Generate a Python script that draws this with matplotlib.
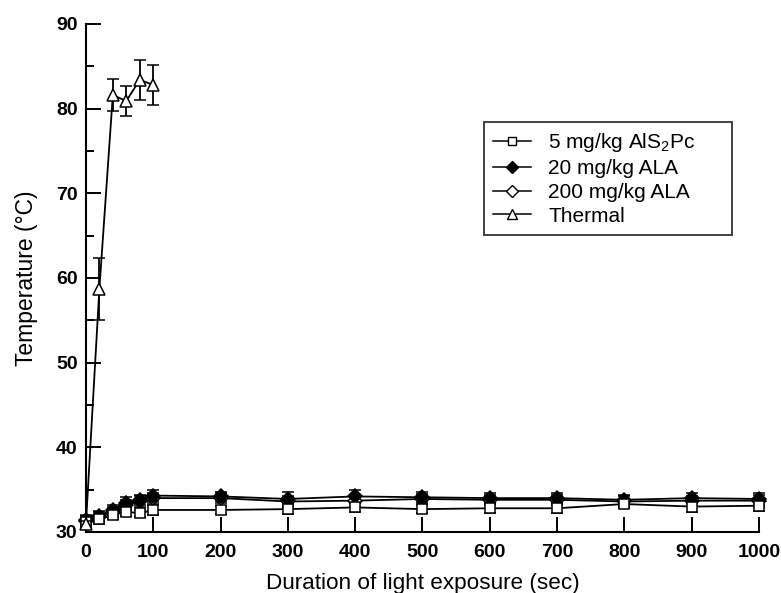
import matplotlib
matplotlib.use("Agg")
import matplotlib.pyplot as plt
from matplotlib.ticker import MultipleLocator
from matplotlib.lines import Line2D

plt.rcParams['font.family'] = ['Liberation Sans', 'DejaVu Sans']

# ---- data ----
x_light = [0, 20, 40, 60, 80, 100, 200, 300, 400, 500, 600, 700, 800, 900, 1000]
alspc = [31.2, 31.5, 32.0, 32.4, 32.2, 32.6, 32.6, 32.7, 32.9, 32.7, 32.8, 32.8, 33.3, 33.0, 33.1]
alspc_err = [0.4, 0.5, 0.5, 0.5, 0.4, 0.6, 0.5, 0.6, 0.5, 0.5, 0.5, 0.5, 0.4, 0.6, 0.6]
ala20 = [31.4, 31.9, 32.6, 33.4, 33.8, 34.3, 34.2, 33.9, 34.2, 34.1, 34.0, 34.0, 33.8, 34.0, 33.9]
ala20_err = [0.6, 0.6, 0.6, 0.7, 0.6, 0.6, 0.5, 0.8, 0.8, 0.6, 0.6, 0.6, 0.6, 0.6, 0.7]
ala200 = [31.3, 31.8, 32.4, 33.2, 33.6, 34.0, 34.0, 33.6, 33.7, 33.9, 33.8, 33.8, 33.6, 33.7, 33.7]
ala200_err = [0.6, 0.6, 0.6, 0.6, 0.6, 0.6, 0.6, 0.7, 0.7, 0.6, 0.6, 0.6, 0.6, 0.6, 0.7]
x_thermal = [0, 20, 40, 60, 80, 100]
thermal = [30.9, 58.7, 81.6, 80.9, 83.4, 82.8]
thermal_err = [0.4, 3.7, 1.9, 1.8, 2.4, 2.4]

labels = ['5 mg/kg AlS$_\\mathregular{2}$Pc', '20 mg/kg ALA', '200 mg/kg ALA', 'Thermal']
x_ticks = [0, 100, 200, 300, 400, 500, 600, 700, 800, 900, 1000]
y_ticks = [30, 40, 50, 60, 70, 80, 90]

fig = plt.figure(figsize=(7.81, 5.93), dpi=100)
ax = fig.add_axes([0.110, 0.1029, 0.8617, 0.8567])

common = dict(color='black', lw=1.3, capsize=4.5, elinewidth=1.3, capthick=1.3, clip_on=False)
ax.errorbar(x_light, ala200, yerr=ala200_err, marker='D', ms=7, mfc='white', mec='black',
            mew=1.1, zorder=3, **common)
ax.errorbar(x_light, ala20, yerr=ala20_err, marker='D', ms=7, mfc='black', mec='black',
            mew=1.1, zorder=4, **common)
ax.errorbar(x_light, alspc, yerr=alspc_err, marker='s', ms=7.5, mfc='white', mec='black',
            mew=1.1, zorder=5, **common)
ax.errorbar(x_thermal, thermal, yerr=thermal_err, marker='^', ms=9, mfc='white', mec='black',
            mew=1.1, zorder=6, **common)

ax.set_xlim(0, 1000)
ax.set_ylim(30, 90)
ax.set_xticks(x_ticks)
ax.set_yticks(y_ticks)
ax.yaxis.set_minor_locator(MultipleLocator(5))
ax.spines['top'].set_visible(False)
ax.spines['right'].set_visible(False)
for s in ('left', 'bottom'):
    ax.spines[s].set_linewidth(1.5)
ax.tick_params(axis='both', which='major', direction='in', length=11, width=1.4, labelsize=14)
ax.tick_params(axis='x', which='major', pad=8.5)
ax.tick_params(axis='y', which='major', pad=6)
ax.tick_params(axis='y', which='minor', direction='in', length=5.5, width=1.4)
for lab in ax.get_xticklabels() + ax.get_yticklabels():
    lab.set_fontweight('bold')

ax.set_xlabel('Duration of light exposure (sec)', fontsize=16.2, labelpad=9)
ax.set_ylabel('Temperature (\u00b0C)', fontsize=16.5, labelpad=13)

handles = [
    Line2D([], [], color='black', lw=1.1, marker='s', ms=6, mfc='white', mec='black'),
    Line2D([], [], color='black', lw=1.1, marker='D', ms=6, mfc='black', mec='black'),
    Line2D([], [], color='black', lw=1.1, marker='D', ms=6, mfc='white', mec='black'),
    Line2D([], [], color='black', lw=1.1, marker='^', ms=6.5, mfc='white', mec='black'),
]
leg = ax.legend(handles, labels, loc='upper left', bbox_to_anchor=(0.591, 0.589, 0.369, 0.218),
                mode='expand', fontsize=15, frameon=True, fancybox=False, edgecolor='black',
                handlelength=1.8, handletextpad=0.85, labelspacing=0.23, borderpad=0.45,
                borderaxespad=0)
leg.get_frame().set_linewidth(1.3)

fig.savefig('out.png', dpi=100)
